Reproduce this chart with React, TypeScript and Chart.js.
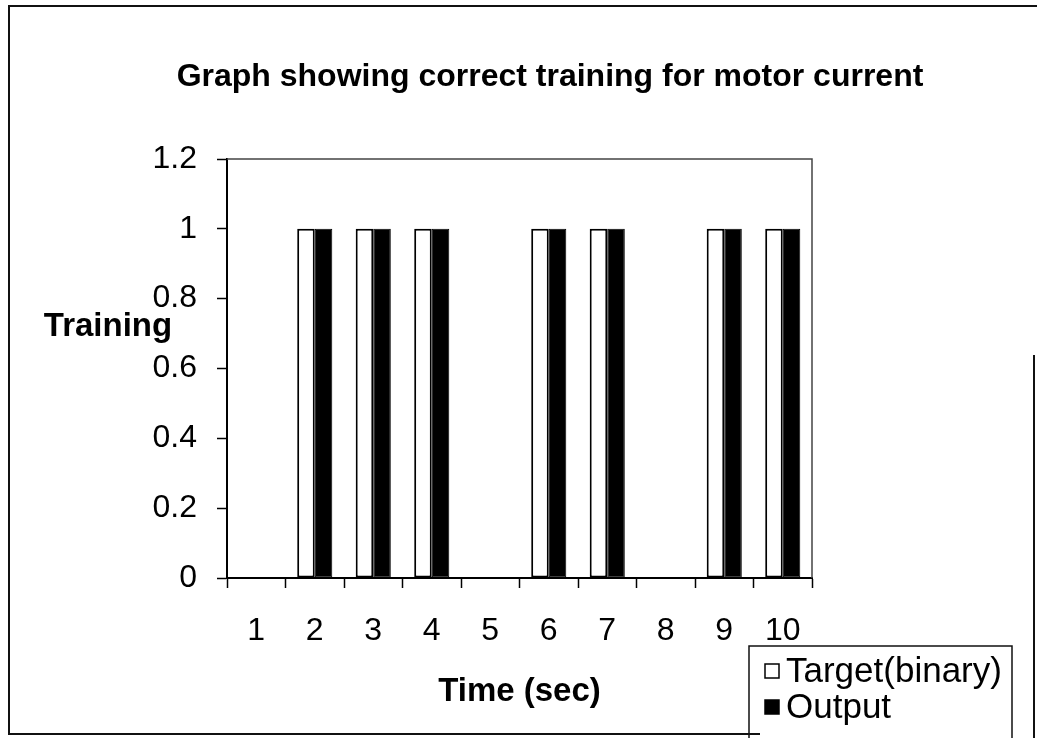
import React, { useEffect, useRef } from "react";
import { Chart, registerables } from "chart.js";

Chart.register(...registerables);

// Time steps (seconds) along the x axis
const timeLabels = ["1", "2", "3", "4", "5", "6", "7", "8", "9", "10"];
// Expected binary training target at each time step
const targetValues = [0, 1, 1, 1, 0, 1, 1, 0, 1, 1];
// Network output at each time step
const outputValues = [0, 1, 1, 1, 0, 1, 1, 0, 1, 1];
// Value axis range
const yMin = 0;
const yMax = 1.2;
const yStep = 0.2;

const chartTitle = "Graph showing correct training for motor current";
const yAxisTitle = "Training";
const xAxisTitle = "Time (sec)";

const FONT = "'Liberation Sans', Arial, Helvetica, sans-serif";

// Draws the outer frame, plot border, titles and the boxed legend.
const decorations = {
  id: "decorations",
  beforeDraw(chart: any) {
    const { ctx, width, height } = chart;
    ctx.save();
    ctx.fillStyle = "#ffffff";
    ctx.fillRect(0, 0, width, height);
    ctx.restore();
  },
  afterDraw(chart: any) {
    const { ctx, chartArea } = chart;
    ctx.save();

    // plot area outline on top and right
    ctx.strokeStyle = "#444";
    ctx.lineWidth = 1.5;
    ctx.beginPath();
    ctx.moveTo(chartArea.left, chartArea.top);
    ctx.lineTo(chartArea.right, chartArea.top);
    ctx.lineTo(chartArea.right, chartArea.bottom);
    ctx.stroke();

    // outer frame
    ctx.strokeStyle = "#111";
    ctx.lineWidth = 2;
    ctx.beginPath();
    ctx.moveTo(1037, 6);
    ctx.lineTo(9, 6);
    ctx.lineTo(9, 734);
    ctx.lineTo(760, 734);
    ctx.moveTo(1034, 355);
    ctx.lineTo(1034, 738);
    ctx.stroke();

    ctx.fillStyle = "#000";
    ctx.textAlign = "center";
    ctx.textBaseline = "middle";

    // chart title
    ctx.font = `bold 32px ${FONT}`;
    ctx.fillText(chartTitle, 550, 77);

    // axis titles
    ctx.font = `bold 33px ${FONT}`;
    ctx.fillText(yAxisTitle, 108, 327);
    ctx.fillText(xAxisTitle, (chartArea.left + chartArea.right) / 2, 692);

    // legend box
    const lx = 749;
    const ly = 646;
    const lr = 1012;
    ctx.strokeStyle = "#111";
    ctx.lineWidth = 1.5;
    ctx.beginPath();
    ctx.moveTo(lx, 740);
    ctx.lineTo(lx, ly);
    ctx.lineTo(lr, ly);
    ctx.lineTo(lr, 740);
    ctx.stroke();

    const rows = [671, 707];
    ctx.font = `35px ${FONT}`;
    ctx.textAlign = "left";
    chart.data.datasets.forEach((ds: any, i: number) => {
      const cy = rows[i];
      ctx.fillStyle = ds.backgroundColor;
      ctx.fillRect(765, cy - 7, 14, 14);
      ctx.strokeStyle = "#000";
      ctx.lineWidth = 1.5;
      ctx.strokeRect(765, cy - 7, 14, 14);
      ctx.fillStyle = "#000";
      ctx.fillText(ds.label, 786, cy + 1);
    });

    ctx.restore();
  },
};

export default function App() {
  const canvasRef = useRef<HTMLCanvasElement | null>(null);

  useEffect(() => {
    const canvas = canvasRef.current;
    if (!canvas) return;
    const chart = new Chart(canvas, {
      type: "bar",
      data: {
        labels: timeLabels,
        datasets: [
          {
            label: "Target(binary)",
            data: targetValues,
            backgroundColor: "#ffffff",
            borderColor: "#000000",
            borderWidth: 2,
            borderSkipped: false,
          },
          {
            label: "Output",
            data: outputValues,
            backgroundColor: "#000000",
            borderColor: "#000000",
            borderWidth: 1,
            borderSkipped: false,
          },
        ],
      },
      options: {
        responsive: false,
        animation: false,
        events: [],
        layout: { padding: { top: 159, right: 225, left: 0, bottom: 0 } },
        datasets: {
          bar: { categoryPercentage: 0.6, barPercentage: 1 },
        },
        plugins: {
          legend: { display: false },
          title: { display: false },
          tooltip: { enabled: false },
        },
        scales: {
          x: {
            offset: true,
            grid: {
              offset: true,
              drawOnChartArea: false,
              drawTicks: true,
              tickLength: 10,
              tickWidth: 1.5,
              tickColor: "#000",
            },
            border: { display: true, color: "#000", width: 2 },
            ticks: {
              color: "#000",
              font: { family: FONT, size: 32 },
              padding: 24,
              maxRotation: 0,
              autoSkip: false,
            },
            afterFit: (scale: any) => {
              scale.height = 160;
            },
          },
          y: {
            min: yMin,
            max: yMax,
            grid: {
              drawOnChartArea: false,
              drawTicks: true,
              tickLength: 10,
              tickWidth: 1.5,
              tickColor: "#000",
            },
            border: { display: true, color: "#000", width: 2 },
            ticks: {
              stepSize: yStep,
              color: "#000",
              font: { family: FONT, size: 32 },
              padding: 20,
              callback: (v: any) => String(Number(Number(v).toFixed(1))),
            },
            afterFit: (scale: any) => {
              scale.width = 227;
            },
          },
        },
      },
      plugins: [decorations],
    });
    return () => chart.destroy();
  }, []);

  return (
    <div
      style={{
        position: "fixed",
        left: 0,
        top: 0,
        width: 1037,
        height: 738,
        background: "#fff",
      }}
    >
      <canvas ref={canvasRef} width={1037} height={738} style={{ display: "block" }} />
    </div>
  );
}
